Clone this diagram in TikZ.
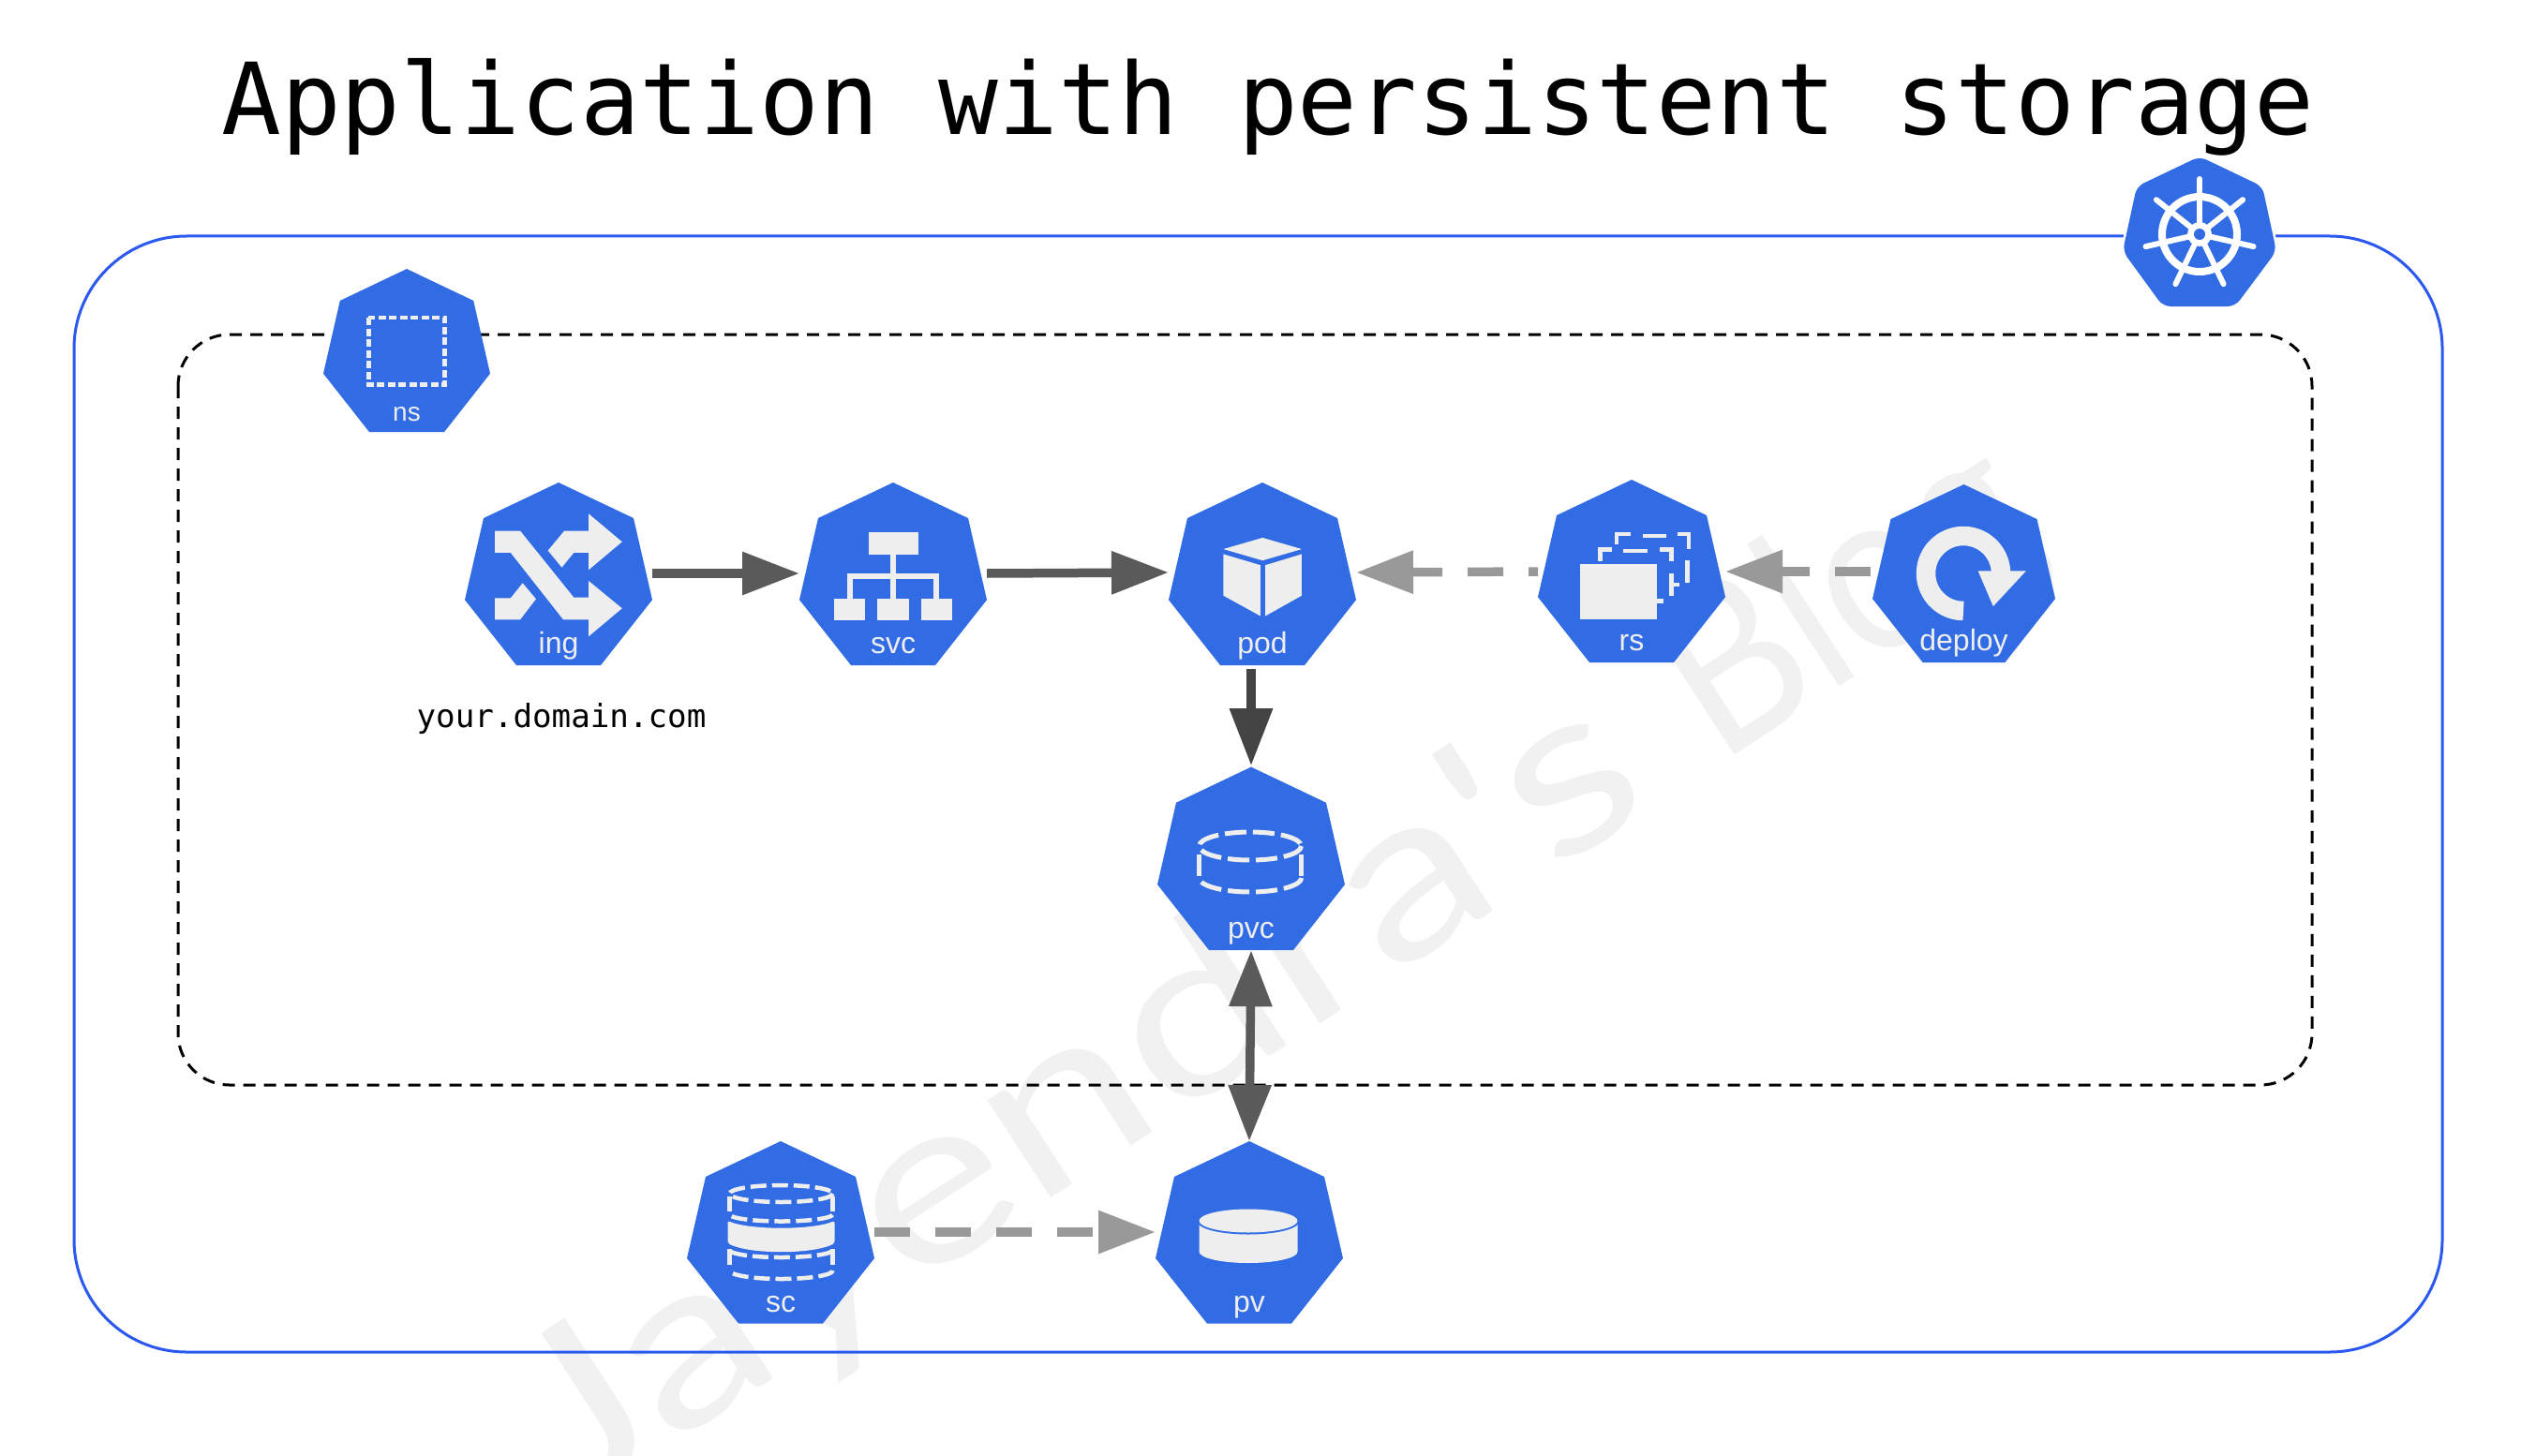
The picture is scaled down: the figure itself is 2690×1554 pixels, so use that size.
\documentclass[tikz,border=0pt]{standalone}
\usepackage{fontspec}
\setmainfont{Liberation Sans}
\newfontfamily\monof{DejaVu Sans Mono}
\newfontfamily\wmarkf[FakeStretch=1.25]{Lato}
\newfontfamily\wmarkg[FakeStretch=.88]{Lato}
\usetikzlibrary{arrows.meta,calc}
\definecolor{kblue}{HTML}{326CE5}
\definecolor{frameblue}{HTML}{2B59F0}
\definecolor{iconc}{HTML}{EEEEEE}
\definecolor{darkarrow}{HTML}{5A5A5A}
\definecolor{darkerarrow}{HTML}{444444}
\definecolor{lightarrow}{HTML}{999999}
\definecolor{wmark}{HTML}{F1F1F1}
\tikzset{
  port/.style={inner sep=0pt,outer sep=0pt,minimum width=200pt,draw=none,fill=none},
  lbl/.style={anchor=base,text=iconc,inner sep=0pt,font=\fontsize{32}{32}\selectfont},
  solidflow/.style={draw=darkarrow,line width=9.5pt,-{Triangle[length=61pt,width=44pt,fill=darkarrow]}},
  dashflow/.style={draw=lightarrow,line width=9.5pt,dash pattern=on 38pt off 27pt,-{Triangle[length=61pt,width=44pt,fill=lightarrow]}},
  icon/.style={fill=iconc,draw=none},
  cyl/.style={draw=iconc,line width=5pt,dash pattern=on 23pt off 7pt},
  cyls/.style={draw=iconc,line width=4.5pt,dash pattern=on 17pt off 6pt},
  zoomA/.style={shift={(300,260)},x=.5102pt,y=-.3333pt},
  zoomB/.style={shift={(1100,480)},x=.7334pt,y=-.35714pt},
}
% name, cx, top, height, half width, port centre y, port height
\newcommand\hept[7]{%
  \fill[kblue] (#2,#3) -- ({#2+.8*#5},{#3+.195*#4}) -- ({#2+#5},{#3+.642*#4})
    -- ({#2+.45*#5},{#3+#4}) -- ({#2-.45*#5},{#3+#4}) -- ({#2-#5},{#3+.642*#4})
    -- ({#2-.8*#5},{#3+.195*#4}) -- cycle;
  \node[port,minimum height=#7pt] (#1) at (#2,#6) {};
}
% style, cx, cy, rx, ry, from, to
\newcommand\earc[7]{\draw[#1] plot[domain=#6:#7,samples=30,smooth] ({#2+#4*cos(\x)},{#3+#5*sin(\x)});}
\begin{document}
\begin{tikzpicture}[x=1pt,y=-1pt]
\useasboundingbox (0,0) rectangle (2690,1554);
\fill[white] (0,0) rectangle (2690,1554);
% watermark
\begin{scope}
\clip (0,0) rectangle (2690,1554);
\node[rotate=33,anchor=base west,text=wmark,inner sep=0pt,font=\fontsize{245}{245}\selectfont] (wm) at (611,1611) {\wmarkf Jayendra's \wmarkg Blog};
\end{scope}
% title
\node[anchor=base,inner sep=0pt,font=\monof\fontsize{106}{106}\selectfont] (title) at (1353,144) {Application with persistent storage};
% frames
\draw[frameblue,line width=3pt,rounded corners=120pt] (79,252) rectangle (2606,1443);
\draw[black,line width=3pt,dash pattern=on 13pt off 9pt,rounded corners=55pt] (190,357) rectangle (2467,1158);
% hexagons
\hept{ns}{434}{287}{174}{89}{380}{174}
\hept{ing}{596}{515}{195}{100}{612}{195}
\hept{svc}{953}{515}{195}{100}{612}{195}
\hept{pod}{1347}{515}{195}{100}{611}{206}
\hept{rs}{1741}{512}{195}{100}{610}{195}
\hept{deploy}{2095.5}{517}{190}{97.5}{610}{190}
\hept{pvc}{1335}{818.6}{195.4}{100}{915.7}{197}
\hept{sc}{833}{1218}{194.6}{100}{1315}{194}
\hept{pv}{1333}{1218}{194.6}{100}{1315}{194}
% labels
\node[lbl,font=\fontsize{28}{28}\selectfont] (nsl) at (434,449) {ns};
\node[lbl] (ingl) at (596,697) {ing};
\node[lbl] (svcl) at (953,697) {svc};
\node[lbl] (podl) at (1347,697) {pod};
\node[lbl] (rsl) at (1741,694) {rs};
\node[lbl] (deployl) at (2095.5,694) {deploy};
\node[lbl] (pvcl) at (1335,1001) {pvc};
\node[lbl] (scl) at (833,1400) {sc};
\node[lbl] (pvl) at (1333,1400) {pv};
\node[anchor=base,inner sep=0pt,font=\monof\fontsize{34.2}{35}\selectfont] (domain) at (599,776) {your.domain.com};
% ns icon
\draw[draw=iconc,line width=4.5pt,dash pattern=on 8pt off 3.5pt] (393.4,339) rectangle (474.5,410.7);
% ing and svc icons
\begin{scope}[zoomA]
\fill[icon] (447,920) -- (500,920) -- (612,1133) -- (643,1133) -- (643,1080) -- (713,1168) -- (643,1258) -- (643,1204) -- (590,1204) -- (480,990) -- (447,990) -- cycle;
\fill[icon] (558,983) -- (592,920) -- (643,920) -- (643,865) -- (713,955) -- (643,1045) -- (643,990) -- (612,990) -- (587,1037) -- cycle;
\fill[icon] (447,1135) -- (480,1135) -- (505,1087) -- (533,1138) -- (500,1204) -- (447,1204) -- cycle;
\fill[icon] (1228,925) rectangle (1332,995);
\fill[icon] (1274,995) rectangle (1286,1136);
\fill[icon] (1184,1057) rectangle (1376,1075);
\fill[icon] (1184,1057) rectangle (1196,1136);
\fill[icon] (1364,1057) rectangle (1376,1136);
\fill[icon] (1156,1136) rectangle (1222,1206);
\fill[icon] (1247,1136) rectangle (1313,1206);
\fill[icon] (1338,1136) rectangle (1403,1206);
\end{scope}
% pod, rs icons
\begin{scope}[zoomB]
\fill[icon] (337,263) -- (394,297) -- (337,331) -- (280,297) -- cycle;
\fill[icon] (280,312) -- (334,345) -- (334,497) -- (280,436) -- cycle;
\fill[icon] (341,345) -- (394,312) -- (394,436) -- (341,497) -- cycle;
\fill[icon] (799,341) rectangle (911,507);
\fill[icon] (911,445) rectangle (921,460);
\draw[draw=iconc,line width=4.5pt] (828,333) -- (828,298) -- (846,298);
\draw[draw=iconc,line width=4.5pt] (862,302) -- (897,302);
\draw[draw=iconc,line width=4.5pt] (915,298) -- (932,298) -- (932,333);
\draw[draw=iconc,line width=4.5pt] (932,370) -- (932,437);
\draw[draw=iconc,line width=4.5pt] (932,403) -- (943,403);
\draw[draw=iconc,line width=4.5pt] (852,283) -- (852,252) -- (873,252);
\draw[draw=iconc,line width=4.5pt] (890,258) -- (925,258);
\draw[draw=iconc,line width=4.5pt] (941,252) -- (957,252) -- (957,296);
\draw[draw=iconc,line width=4.5pt] (955,330) -- (955,398);
\fill[icon] (1378,362) -- (1448,362) -- (1400,468) -- cycle;
\end{scope}
% deploy ring
\earc{draw=iconc,line width=20.5pt}{2095}{612}{40}{40}{90}{362}
% pvc icon
\draw[cyl] (1334,903) ellipse [x radius=54.5,y radius=15];
\draw[cyl] (1279.5,912) -- (1279.5,938);
\draw[cyl] (1388.5,912) -- (1388.5,938);
\earc{cyl}{1334}{937}{54.5}{15}{0}{180}
% pv icon
\fill[iconc] (1279.5,1303) -- (1384.5,1303) -- (1384.5,1336) arc [start angle=0,end angle=180,x radius=52.5,y radius=12] -- cycle;
\earc{draw=kblue,line width=3pt}{1332}{1303}{53}{13}{0}{180}
\fill[iconc] (1332,1303) ellipse [x radius=52.5,y radius=12.5];
% sc icon
\draw[cyls] (833.5,1274) ellipse [x radius=55,y radius=9];
\draw[cyls] (778.5,1277) -- (778.5,1293);
\draw[cyls] (888.5,1277) -- (888.5,1293);
\earc{cyls}{833.5}{1296}{55}{7.5}{5}{175}
\fill[iconc,rounded corners=2pt] (776.5,1303) .. controls (800,1313) and (867,1313) .. (890.5,1303) -- (890.5,1327) .. controls (867,1339) and (800,1339) .. (776.5,1327) -- cycle;
\draw[cyls] (778.5,1333) -- (778.5,1353);
\draw[cyls] (888.5,1333) -- (888.5,1353);
\earc{cyls}{833.5}{1334}{55}{8}{8}{172}
\earc{cyls}{833.5}{1356}{55}{9}{0}{180}
% cluster logo
\path[draw=white,line width=5pt,rounded corners=8pt] (2347,167) -- (2414,199) -- (2429,268) -- (2385,327) -- (2308,327) -- (2265,268) -- (2280,199) -- cycle;
\fill[kblue,rounded corners=8pt] (2347,167) -- (2414,199) -- (2429,268) -- (2385,327) -- (2308,327) -- (2265,268) -- (2280,199) -- cycle;
\draw[white,line width=8pt] (2347,250) circle [radius=40];
\foreach \a in {-90,-38.57,12.86,64.29,115.71,167.14,218.57}
  \draw[white,line width=6pt,line cap=round] (2347,250) -- ({2347+59*cos(\a)},{250+59*sin(\a)});
\fill[white] (2347,250) circle [radius=13];
\fill[kblue] (2347,250) circle [radius=6];
% connectors
\draw[solidflow] (ing.east) -- (svc.west);
\draw[solidflow] (svc.east) -- (pod.west);
\draw[dashflow,dash phase=28pt] (rs.west) -- (pod.east);
\draw[dashflow] (deploy.west) -- (rs.east);
\draw[solidflow,draw=darkerarrow,-{Triangle[length=61pt,width=44pt,fill=darkerarrow]}] (pod.south -| pvc.north) -- (pvc.north);
\draw[solidflow,{Triangle[length=60pt,width=44pt,fill=darkarrow]}-{Triangle[length=60pt,width=44pt,fill=darkarrow]}] (pvc.south) -- (pv.north);
\draw[dashflow] (sc.east) -- (pv.west);
\end{tikzpicture}
\end{document}
